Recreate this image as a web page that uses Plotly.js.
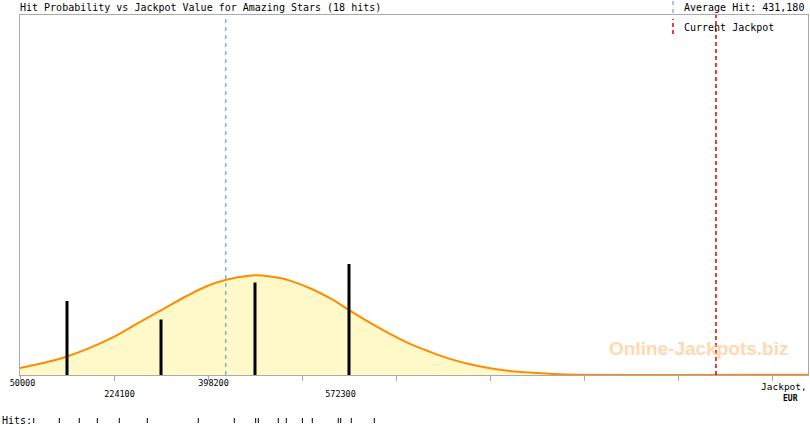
<!DOCTYPE html>
<html>
<head>
<meta charset="utf-8">
<script src="https://cdn.plot.ly/plotly-3.0.1.min.js"></script>
<style>
  html, body { margin: 0; padding: 0; background: #fff; }
  #chart { width: 810px; height: 425px; }
</style>
</head>
<body>
<div id="chart"></div>
<script>
// ---- data ----
const chartTitle = "Hit Probability vs Jackpot Value for Amazing Stars (18 hits)";
const avgHit = 431180;
const currentJackpot = 1339000;

// individual hits (EUR)
const hits = [75400, 122800, 159800, 193200, 233900, 285800, 380200, 446900, 486500,
              491400, 528400, 543200, 573000, 591400, 639500, 644000, 663600, 706200];

// histogram of hits (bin centres and counts)
const binCentres = [137050, 311150, 485250, 659350];
const binCounts = [4, 3, 5, 6];

// probability curve (scaled to hit counts)
const curveX = [50000, 111700, 139500, 173500, 224700, 266100, 314300, 358700, 395800, 433900,
                469900, 488400, 513000, 531600, 550100, 587100, 624200, 661200, 698200, 735300,
                772300, 809400, 846400, 883500, 920500, 957500, 994600, 1031600, 1061300, 1509500];
const curveY = [0.38, 0.78, 1.03, 1.40, 2.08, 2.76, 3.55, 4.27, 4.80, 5.16,
                5.35, 5.39, 5.33, 5.24, 5.10, 4.69, 4.15, 3.48, 2.83, 2.22,
                1.68, 1.25, 0.87, 0.58, 0.37, 0.22, 0.13, 0.07, 0.03, 0.02];

// axis ticks and labels
const tickValues = [50000, 224100, 398200, 572300, 746400, 920500, 1094600, 1268700, 1442800];
const tickLabels = ["50000", "224100", "398200", "572300"];

// ---- build ----
const mono = "DejaVu Sans Mono, monospace";
const W = 810, H = 425, ML = 20, MR = 2, MT = 15, MB = 0;
const PW = W - ML - MR, PH = H - MT - MB;
const px2x = px => (px - ML) / PW;            // paper x from pixel
const py2y = py => (H - MB - py) / PH;        // paper y from pixel

// hits rug as vertical segments
const rugX = [], rugY = [];
hits.forEach(h => { rugX.push(h, h, null); rugY.push(0, 1, null); });

// histogram bars as thick vertical segments (drawn above the curve fill)
const barX = [], barY = [];
binCentres.forEach((c, i) => { barX.push(c, c, null); barY.push(0, binCounts[i], null); });

// label positions (the reference draws them offset from tick marks)
const labelPos = [54600, 234300, 408400, 643600];
const labelText = tickLabels.map((t, i) => (i % 2 === 1 ? "<br>" + t : t));

const traces = [
  {
    type: "scatter", mode: "lines", x: curveX, y: curveY,
    line: { color: "#ff8c00", width: 2, shape: "spline", smoothing: 1 },
    fill: "tozeroy", fillcolor: "#fff8c8",
    hoverinfo: "skip", showlegend: false
  },
  {
    type: "scatter", mode: "lines", x: barX, y: barY,
    line: { color: "#000", width: 3 },
    hoverinfo: "skip", showlegend: false
  },
  {
    type: "scatter", mode: "lines", x: rugX, y: rugY, xaxis: "x", yaxis: "y2",
    line: { color: "#000", width: 1 }, hoverinfo: "skip", showlegend: false
  }
];

const layout = {
  width: W, height: H,
  margin: { l: ML, r: MR, t: MT, b: MB, pad: 0 },
  paper_bgcolor: "#fff", plot_bgcolor: "#fff",
  showlegend: false,
  font: { family: mono, size: 10, color: "#000" },
  title: {
    text: chartTitle, xref: "container", yref: "container",
    x: 20 / W, xanchor: "left", y: 1 - 7.5 / H, yanchor: "middle",
    font: { family: mono, size: 10, color: "#000" }
  },
  xaxis: {
    range: [50000, 50000 + PW * (174100 / 94)],
    anchor: "y",
    showgrid: false, zeroline: false,
    showline: true, mirror: true, linecolor: "#aaa", linewidth: 1,
    tickmode: "array", tickvals: labelPos, ticktext: labelText,
    ticks: "", ticklen: 0,
    tickfont: { family: mono, size: 8.5, color: "#000" },
    minor: { tickmode: "array", tickvals: tickValues, ticks: "outside", ticklen: 5,
             tickcolor: "#aaa", tickwidth: 1, showgrid: false }
  },
  yaxis: {
    domain: [py2y(375), 1],
    range: [0, 360 / 18.5],
    showgrid: false, zeroline: false, showticklabels: false, ticks: "",
    showline: true, mirror: true, linecolor: "#aaa", linewidth: 1
  },
  yaxis2: {
    domain: [py2y(423), py2y(418)], range: [0, 1], anchor: "x",
    visible: false, showgrid: false, zeroline: false
  },
  shapes: [
    { type: "line", xref: "x", yref: "y domain", x0: avgHit, x1: avgHit, y0: 0, y1: 1,
      line: { color: "#4b93c9", width: 1, dash: "4px,4px" } },
    { type: "line", xref: "x", yref: "y domain", x0: currentJackpot, x1: currentJackpot, y0: 0, y1: 1,
      line: { color: "#e00000", width: 1.5, dash: "4px,3px" } },
    // legend keys
    { type: "line", xref: "paper", yref: "paper", x0: px2x(673), x1: px2x(673), y0: py2y(13), y1: py2y(0),
      line: { color: "#4b93c9", width: 1, dash: "4px,4px" } },
    { type: "line", xref: "paper", yref: "paper", x0: px2x(673), x1: px2x(673), y0: py2y(34), y1: py2y(19),
      line: { color: "#e00000", width: 1.5, dash: "4px,3px" } }
  ],
  annotations: [
    { xref: "paper", yref: "paper", x: px2x(682), y: py2y(7.5), xanchor: "left", yanchor: "middle",
      text: "Average Hit: " + avgHit.toLocaleString("en-US"), showarrow: false,
      font: { family: mono, size: 10, color: "#000" } },
    { xref: "paper", yref: "paper", x: px2x(682), y: py2y(27), xanchor: "left", yanchor: "middle",
      text: "Current Jackpot", showarrow: false,
      font: { family: mono, size: 10, color: "#000" } },
    { xref: "paper", yref: "paper", x: px2x(809), y: py2y(386.5), xanchor: "right", yanchor: "middle",
      text: "Jackpot,", showarrow: false,
      font: { family: mono, size: 9.5, color: "#000" } },
    { xref: "paper", yref: "paper", x: px2x(790.5), y: py2y(398), xanchor: "center", yanchor: "middle",
      text: "<b>EUR</b>", showarrow: false,
      font: { family: mono, size: 8, color: "#000" } },
    { xref: "paper", yref: "paper", x: px2x(0), y: py2y(420), xanchor: "left", yanchor: "middle",
      text: "Hits:", showarrow: false,
      font: { family: mono, size: 10, color: "#000" } },
    { xref: "paper", yref: "paper", x: px2x(698.5), y: py2y(348), xanchor: "center", yanchor: "middle",
      text: "<b>Online-Jackpots.biz</b>", showarrow: false,
      font: { family: "Liberation Sans, Arial, sans-serif", size: 19, color: "#ffd9b0" } }
  ]
};

Plotly.newPlot("chart", traces, layout, { displayModeBar: false, staticPlot: true });
</script>
</body>
</html>
